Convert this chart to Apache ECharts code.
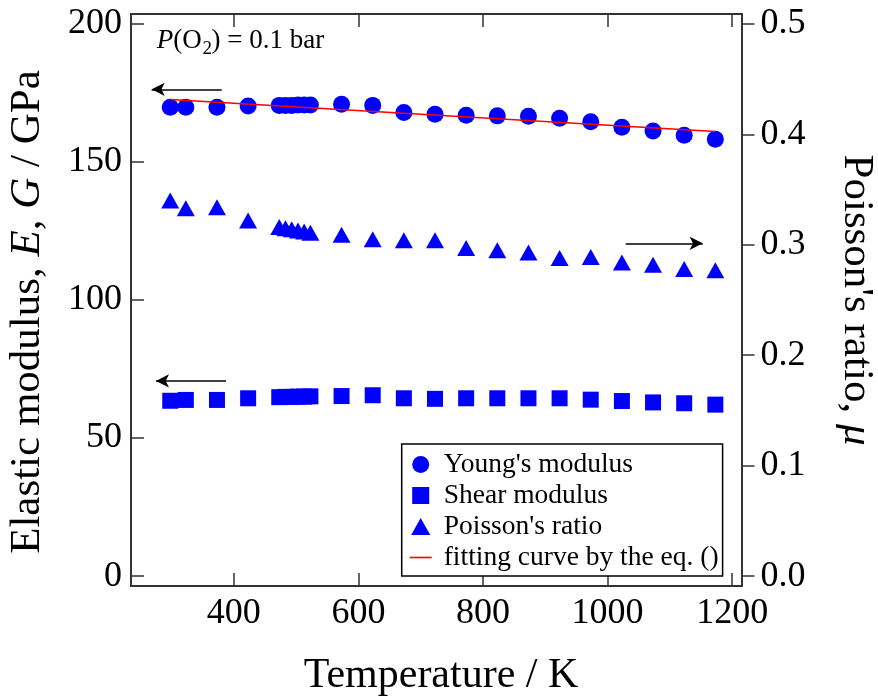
<!DOCTYPE html>
<html><head><meta charset="utf-8">
<script src="https://cdn.jsdelivr.net/npm/echarts@6/dist/echarts.min.js"></script>
<style>html,body{margin:0;padding:0;background:#fff}#c{width:878px;height:699px}</style>
</head><body><div id="c"></div>
<script>
// ---- data ----
const temperatures = [298, 323, 373, 423, 473, 483, 493, 503, 513, 523, 573, 623, 673, 723, 773, 823, 873, 923, 973, 1023, 1073, 1123, 1173];
const youngsModulus = [169.8, 169.8, 169.8, 170.3, 170.5, 170.5, 170.5, 170.6, 170.6, 170.6, 170.9, 170.5, 167.9, 167.3, 166.9, 166.7, 166.6, 165.8, 164.6, 162.6, 161.2, 159.7, 158.2];
const shearModulus = [63.5, 63.8, 63.8, 64.4, 64.8, 64.9, 64.9, 65.0, 65.0, 65.1, 65.2, 65.5, 64.4, 64.2, 64.4, 64.4, 64.4, 64.4, 63.9, 63.4, 62.9, 62.6, 62.1];
const poissonRatio = [0.340, 0.333, 0.334, 0.322, 0.316, 0.315, 0.314, 0.313, 0.312, 0.311, 0.309, 0.305, 0.304, 0.304, 0.297, 0.295, 0.293, 0.288, 0.289, 0.284, 0.282, 0.278, 0.277];
const fitTemperatures = [298, 700, 1173];
const fitValues = [172.6, 167.3, 161.0];
const xTicks = [400, 600, 800, 1000, 1200];
const leftTicks = [0, 50, 100, 150, 200];
const rightTicks = [0, 0.1, 0.2, 0.3, 0.4, 0.5];
// arrow annotations (data units): [from, to]
const arrowYoung = [[268.2, 176.3], [380.6, 176.3]];
const arrowShear = [[275.1, 70.7], [387.5, 70.7]];
const arrowPoisson = [[1029.1, 0.3013], [1152.7, 0.3013]];

const FF = "'Liberation Serif','Times New Roman',serif";
const AX = '#333';
const BLUE = '#0000ff';
const zip = (xs, ys) => xs.map((x, i) => [x, ys[i]]);

function arrowMark(a, headAtStart) {
  return {
    silent: true, animation: false,
    symbol: headAtStart ? ['arrow', 'none'] : ['none', 'arrow'],
    symbolSize: [10, 13],
    lineStyle: { color: '#000', width: 1.5, type: 'solid' },
    itemStyle: { color: '#000' },
    label: { show: false },
    emphasis: { disabled: true },
    data: [[{ coord: a[0] }, { coord: a[1] }]]
  };
}

const xAxisBase = {
  type: 'value', min: 235, max: 1215,
  axisLine: { show: true, onZero: false, lineStyle: { color: AX, width: 2 } },
  axisTick: { show: true, inside: true, length: 13, customValues: xTicks, lineStyle: { color: AX, width: 1.5 } },
  splitLine: { show: false }
};

const chart = echarts.init(document.getElementById('c'), null, { renderer: 'canvas' });
chart.setOption({
  animation: false,
  backgroundColor: '#fff',
  grid: { left: 131, right: 136.5, top: 14, bottom: 113, containLabel: false },
  xAxis: [
    Object.assign({}, xAxisBase, {
      position: 'bottom',
      axisLabel: { customValues: xTicks, margin: 10, fontFamily: FF, fontSize: 36, color: '#000',
        formatter: v => String(Math.round(v)) }
    }),
    Object.assign({}, xAxisBase, { position: 'top', axisLabel: { show: false } })
  ],
  yAxis: [
    {
      type: 'value', min: -3.6, max: 203.6, position: 'left',
      axisLine: { show: true, onZero: false, lineStyle: { color: AX, width: 2 } },
      axisTick: { show: true, inside: true, length: 13, customValues: leftTicks, lineStyle: { color: AX, width: 1.5 } },
      axisLabel: { customValues: leftTicks, margin: 9, fontFamily: FF, fontSize: 36, color: '#000',
        formatter: v => String(Math.round(v)) },
      splitLine: { show: false }
    },
    {
      type: 'value', min: -0.009, max: 0.509, position: 'right',
      axisLine: { show: true, onZero: false, lineStyle: { color: AX, width: 2 } },
      axisTick: { show: true, inside: false, length: 13, customValues: rightTicks, lineStyle: { color: AX, width: 1.5 } },
      axisLabel: { customValues: rightTicks, margin: 19, fontFamily: FF, fontSize: 36, color: '#000',
        formatter: v => Number(v).toFixed(1) },
      splitLine: { show: false }
    }
  ],
  legend: {
    orient: 'vertical', left: 401.7, top: 444,
    padding: [5, 4, 3, 8], itemGap: 0, itemWidth: 22, itemHeight: 17,
    borderColor: '#000', borderWidth: 1.5, backgroundColor: '#fff',
    selectedMode: false, symbolKeepAspect: true,
    textStyle: { fontFamily: FF, fontSize: 27.5, color: '#000', lineHeight: 31, padding: [0, 0, 0, 7] },
    data: [
      { name: "Young's modulus", icon: 'circle' },
      { name: 'Shear modulus', icon: 'path://M0,0H16V16H0Z', symbolKeepAspect: true },
      { name: "Poisson's ratio", icon: 'path://M9,0L18,16H0Z', symbolKeepAspect: true },
      { name: 'fitting curve by the eq. ()', icon: 'path://M0,0H20V1.5H0Z', itemStyle: { color: '#ff0000' } }
    ]
  },
  series: [
    {
      name: "Young's modulus", type: 'scatter', symbol: 'circle', symbolSize: 17,
      xAxisIndex: 0, yAxisIndex: 0, itemStyle: { color: BLUE, opacity: 1 },
      data: zip(temperatures, youngsModulus), z: 2,
      markLine: arrowMark(arrowYoung, true)
    },
    {
      name: 'Shear modulus', type: 'scatter', symbol: 'rect', symbolSize: 16, symbolKeepAspect: true,
      xAxisIndex: 0, yAxisIndex: 0, itemStyle: { color: BLUE, opacity: 1 },
      data: zip(temperatures, shearModulus), z: 2,
      markLine: arrowMark(arrowShear, true)
    },
    {
      name: "Poisson's ratio", type: 'scatter', symbol: 'triangle', symbolSize: [18, 16], symbolKeepAspect: true,
      xAxisIndex: 0, yAxisIndex: 1, itemStyle: { color: BLUE, opacity: 1 },
      data: zip(temperatures, poissonRatio), z: 2,
      markLine: arrowMark(arrowPoisson, false)
    },
    {
      name: 'fitting curve by the eq. ()', type: 'line', symbol: 'none', showSymbol: false,
      xAxisIndex: 0, yAxisIndex: 0,
      lineStyle: { color: '#ff0000', width: 1.5 }, itemStyle: { color: '#ff0000' },
      data: zip(fitTemperatures, fitValues), z: 5
    }
  ],
  graphic: [
    { type: 'text', x: 441, y: 676, style: { text: 'Temperature / K', font: "42px " + FF, fill: '#000', align: 'center', verticalAlign: 'middle', textAlign: 'center', textVerticalAlign: 'middle' } },
    { type: 'text', x: 28, y: 312, rotation: Math.PI / 2,
      style: { text: 'Elastic modulus, {i|E}, {i|G} / GPa', fontFamily: FF, fontSize: 43, fill: '#000', align: 'center', verticalAlign: 'middle', textAlign: 'center', textVerticalAlign: 'middle',
        rich: { i: { fontFamily: FF, fontSize: 43, fontStyle: 'italic', fill: '#000' } } } },
    { type: 'text', x: 856, y: 300, rotation: -Math.PI / 2,
      style: { text: "Poisson's ratio, {i|μ}", fontFamily: FF, fontSize: 43, fill: '#000', align: 'center', verticalAlign: 'middle', textAlign: 'center', textVerticalAlign: 'middle',
        rich: { i: { fontFamily: FF, fontSize: 43, fontStyle: 'italic', fill: '#000' } } } },
    { type: 'text', x: 156.7, y: 41, style: { text: 'P', font: "italic 27px " + FF, fill: '#000', align: 'left', verticalAlign: 'middle', textAlign: 'left', textVerticalAlign: 'middle' } },
    { type: 'text', x: 173.2, y: 41, style: { text: '(O', font: "27px " + FF, fill: '#000', align: 'left', verticalAlign: 'middle', textAlign: 'left', textVerticalAlign: 'middle' } },
    { type: 'text', x: 202.5, y: 49, style: { text: '2', font: "19px " + FF, fill: '#000', align: 'left', verticalAlign: 'middle', textAlign: 'left', textVerticalAlign: 'middle' } },
    { type: 'text', x: 211.5, y: 41, style: { text: ') = 0.1 bar', font: "27px " + FF, fill: '#000', align: 'left', verticalAlign: 'middle', textAlign: 'left', textVerticalAlign: 'middle' } }
  ]
});
</script>
</body></html>
